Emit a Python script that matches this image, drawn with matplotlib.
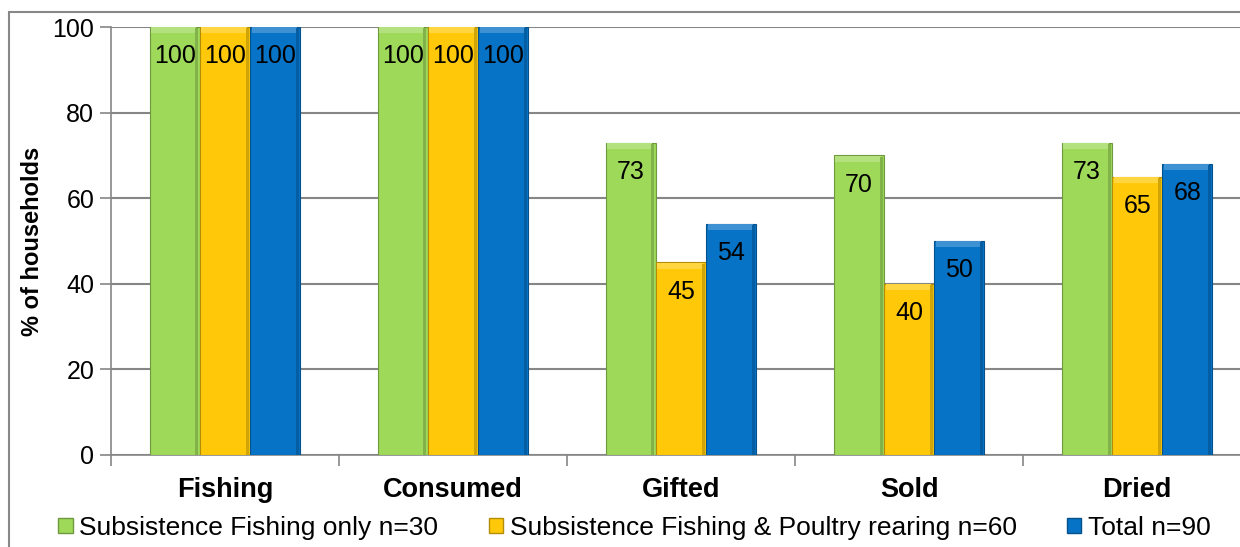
import numpy as np
import matplotlib.pyplot as plt
from matplotlib.patches import Patch, Rectangle
from matplotlib.colors import to_rgb

plt.rcParams['font.family'] = ['Liberation Sans', 'DejaVu Sans']

categories = ["Fishing", "Consumed", "Gifted", "Sold", "Dried"]
series_names = ["Subsistence Fishing only n=30",
                "Subsistence Fishing & Poultry rearing n=60",
                "Total n=90"]
fishing_only = [100, 100, 73, 70, 73]
fishing_poultry = [100, 100, 45, 40, 65]
total = [100, 100, 54, 50, 68]
yticks = [0, 20, 40, 60, 80, 100]

colors = ["#9ED95A", "#FFC90A", "#0773C6"]


def shade(c, f):
    """ darken (f<1) or lighten (f>1) a colour """
    r = np.array(to_rgb(c))
    if f < 1:
        return tuple(r * f)
    return tuple(r + (1 - r) * (f - 1))


fig = plt.figure(figsize=(12.4, 5.47), dpi=100)
ax = fig.add_axes([0.0895, 0.1682, 0.9195, 0.7824])

x = np.arange(len(categories))
width = 0.22
offsets = [-width, 0, width]
all_series = [fishing_only, fishing_poultry, total]

for vals, off, col in zip(all_series, offsets, colors):
    vals = np.array(vals)
    ax.bar(x + off, vals, width, color=col, edgecolor=shade(col, 0.7),
           linewidth=0.8, zorder=3)
    # bevel: light strip on top, darker strip on the right side
    ax.bar(x + off - width * 0.02, np.full(len(vals), 1.4), width * 0.9,
           bottom=vals - 1.5, color=shade(col, 1.22), linewidth=0, zorder=4)
    ax.bar(x + off + width * 0.44, vals - 0.3, width * 0.06,
           color=shade(col, 0.82), linewidth=0, zorder=4)
    for xi, v in zip(x + off, vals):
        ax.text(xi, v - 4.0, f"{v}", ha="center", va="top", fontsize=18,
                color="black", zorder=5)

ax.set_xlim(-0.5, len(categories) - 0.5)
ax.set_ylim(0, 100)
ax.set_yticks(yticks)
ax.set_yticklabels([str(t) for t in yticks], fontsize=18)
ax.yaxis.grid(True, color="#868686", linewidth=1.5, zorder=0)
ax.set_axisbelow(True)

ax.set_xticks(np.arange(-0.5, len(categories), 1.0))
ax.set_xticklabels([])
ax.set_xticks(x, minor=True)
ax.set_xticklabels(categories, minor=True, fontsize=19.5, fontweight="bold")
ax.tick_params(axis="x", which="minor", length=0, pad=16)
ax.tick_params(axis="x", which="major", length=8, color="#868686", width=1.2)
ax.tick_params(axis="y", length=8, color="#868686", width=1.2, pad=4)

for side in ["top", "right"]:
    ax.spines[side].set_visible(False)
ax.spines["left"].set_color("#868686")
ax.spines["bottom"].set_color("#868686")
ax.spines["left"].set_linewidth(1.2)
ax.spines["bottom"].set_linewidth(1.2)

ax.set_ylabel("% of households", fontsize=17, fontweight="bold", labelpad=6)

handles = [Patch(facecolor=c, edgecolor=shade(c, 0.7), linewidth=1.0)
           for c in colors]
fig.legend(handles, series_names, loc="center left",
           bbox_to_anchor=(0.047, 0.035), ncol=3, frameon=False, fontsize=19,
           handlelength=0.55, handleheight=0.55, handletextpad=0.25,
           columnspacing=1.9, borderaxespad=0, borderpad=0)

# outer chart border
fig.patches.append(Rectangle((0.0073, -0.05), 1.1, 1.028, transform=fig.transFigure,
                             fill=False, edgecolor="#888888", linewidth=1.5))

fig.savefig("out.png", dpi=100)
